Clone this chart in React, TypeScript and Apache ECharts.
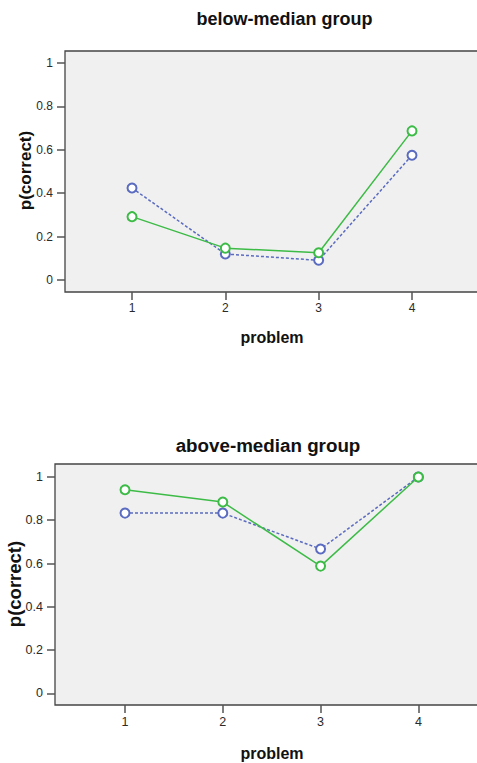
import React, { useEffect, useRef } from "react";
import * as echarts from "echarts";

const problems = [1, 2, 3, 4];
const yTicks = [0, 0.2, 0.4, 0.6, 0.8, 1];
const belowBlue = [0.424, 0.12, 0.091, 0.575];
const belowGreen = [0.292, 0.147, 0.126, 0.687];
const aboveBlue = [0.833, 0.833, 0.667, 1.0];
const aboveGreen = [0.941, 0.884, 0.588, 1.0];
const titles = ["below-median group", "above-median group"];

const FONT = "'Liberation Sans', Arial, sans-serif";
const BLUE = "#5a6bc0";
const GREEN = "#3dbb47";

export default function App() {
  const ref = useRef<HTMLDivElement>(null);
  useEffect(() => {
    if (!ref.current) return;
    const chart = echarts.init(ref.current, null, { renderer: "svg" });
    const pair = (vals: number[]) => problems.map((p, i) => [p, vals[i]]);
    const xAxisBase = (gridIndex: number, min: number, max: number, fs: number) => ({
      type: "value",
      gridIndex,
      min,
      max,
      position: "bottom",
      splitLine: { show: false },
      axisLine: { show: false, onZero: false },
      axisTick: { show: true, inside: false, length: 8, customValues: problems, lineStyle: { color: "#555", width: 1.5 } },
      axisLabel: { customValues: problems, margin: 10, color: "#2a2a2a", fontSize: fs, fontFamily: FONT },
    });
    const yAxisBase = (gridIndex: number, min: number, max: number, fs: number) => ({
      type: "value",
      gridIndex,
      min,
      max,
      position: "left",
      splitLine: { show: false },
      axisLine: { show: false, onZero: false },
      axisTick: { show: true, inside: false, length: 8, customValues: yTicks, lineStyle: { color: "#555", width: 1.5 } },
      axisLabel: { customValues: yTicks, margin: 12, color: "#2a2a2a", fontSize: fs, fontFamily: FONT },
    });
    const seriesBase = (name: string, idx: number, vals: number[], color: string, dashed: boolean) => ({
      name,
      type: "line",
      xAxisIndex: idx,
      yAxisIndex: idx,
      data: pair(vals),
      symbol: "emptyCircle",
      symbolSize: 9,
      showSymbol: true,
      lineStyle: { color, width: 1.5, type: dashed ? [3, 2] : "solid" },
      itemStyle: { color, borderColor: color, borderWidth: 1.5 },
      z: dashed ? 2 : 3,
    });
    chart.setOption({
      animation: false,
      grid: [
        { left: 65, top: 51, width: 435, height: 241, show: true, backgroundColor: "#f0f0f0", borderColor: "#444", borderWidth: 1.3 },
        { left: 55, top: 464, width: 445, height: 241, show: true, backgroundColor: "#f0f0f0", borderColor: "#444", borderWidth: 1.3 },
      ],
      xAxis: [xAxisBase(0, 0.282, 4.943, 12), xAxisBase(1, 0.284, 4.835, 12.5)],
      yAxis: [yAxisBase(0, -0.055, 1.055, 12), yAxisBase(1, -0.054, 1.06, 12.5)],
      series: [
        seriesBase("below-blue", 0, belowBlue, BLUE, true),
        seriesBase("below-green", 0, belowGreen, GREEN, false),
        seriesBase("above-blue", 1, aboveBlue, BLUE, true),
        seriesBase("above-green", 1, aboveGreen, GREEN, false),
      ],
      graphic: [
        { type: "text", x: 284.5, y: 19, style: { text: titles[0], font: `bold 18px ${FONT}`, fill: "#111", align: "center", verticalAlign: "middle" } },
        { type: "text", x: 268, y: 445, style: { text: titles[1], font: `bold 18.8px ${FONT}`, fill: "#111", align: "center", verticalAlign: "middle" } },
        { type: "text", x: 272, y: 337, style: { text: "problem", font: `bold 16px ${FONT}`, fill: "#111", align: "center", verticalAlign: "middle" } },
        { type: "text", x: 272, y: 753, style: { text: "problem", font: `bold 16px ${FONT}`, fill: "#111", align: "center", verticalAlign: "middle" } },
        { type: "text", x: 25.5, y: 170.5, rotation: Math.PI / 2, style: { text: "p(correct)", font: `bold 17px ${FONT}`, fill: "#111", align: "center", verticalAlign: "middle" } },
        { type: "text", x: 14.5, y: 584, rotation: Math.PI / 2, style: { text: "p(correct)", font: `bold 18.5px ${FONT}`, fill: "#111", align: "center", verticalAlign: "middle" } },
      ],
    });
    return () => chart.dispose();
  }, []);
  return (
    <div style={{ position: "absolute", left: 0, top: 0, width: 477, height: 763, overflow: "hidden", background: "#fff" }}>
      <div ref={ref} style={{ width: 500, height: 763 }} />
    </div>
  );
}
